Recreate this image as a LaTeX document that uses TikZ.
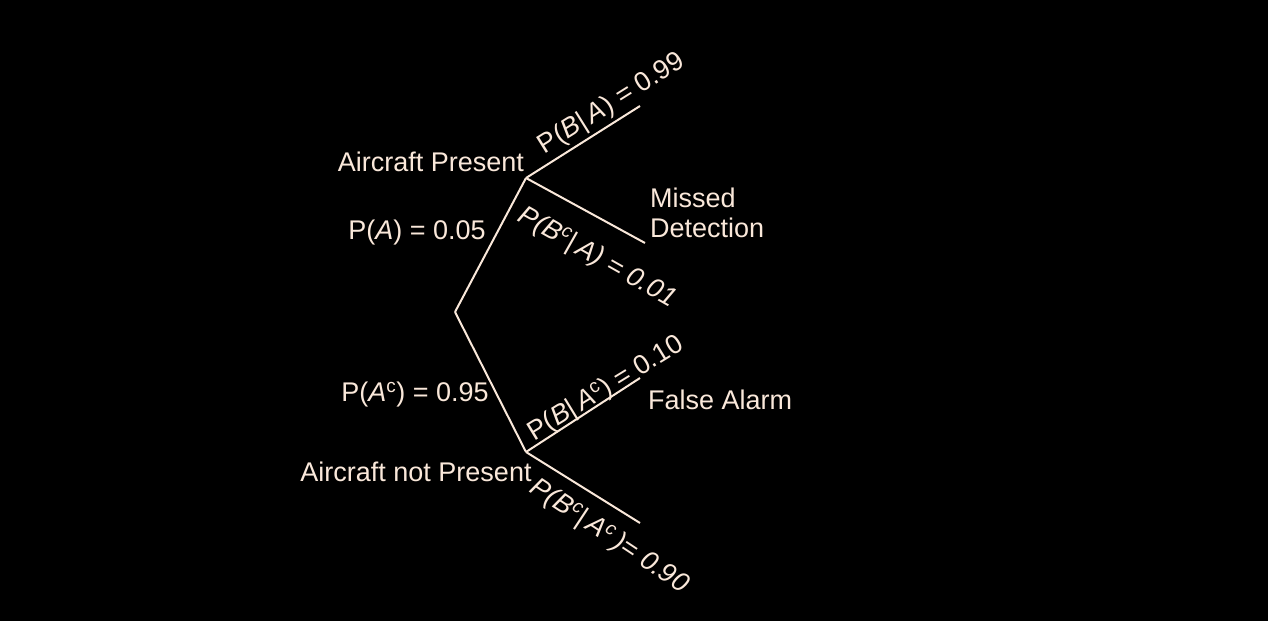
\documentclass[tikz,border=0pt]{standalone}
\usepackage{fontspec}
\setmainfont{Liberation Sans}
\definecolor{cream}{RGB}{250,232,218}
\begin{document}
\begin{tikzpicture}[x=1pt,y=-1pt,
  branch/.style={draw=cream,line width=2pt},
  lbl/.style={text=cream,inner sep=0pt,font=\fontsize{27}{30}\selectfont},
  pt/.style={inner sep=0pt,minimum size=0pt}]
\fill[black] (0,0) rectangle (1268,621);
\useasboundingbox (0,0) rectangle (1268,621);
\coordinate (root) at (455,312);
\coordinate (up) at (526,178);
\coordinate (dn) at (526,452);
\coordinate (uu) at (640,106);
\coordinate (ud) at (645,243);
\coordinate (du) at (640,378);
\coordinate (dd) at (640,523);
\draw[branch] (root) -- (up);
\draw[branch] (root) -- (dn);
\draw[branch] (up) -- (uu);
\draw[branch] (up) -- (ud);
\draw[branch] (dn) -- (du);
\draw[branch] (dn) -- (dd);
\node[lbl] (ap) at (431,162) {Aircraft Present};
\node[lbl] (anp) at (416,472) {Aircraft not Present};
\node[lbl] (pa) at (417,233) {P(\textit{A}) = 0.05};
\node[lbl] (pac) at (415,395) {P(\textit{A}\textsuperscript{c}) = 0.95};
\node[lbl,anchor=west,align=left] (md) at (650,213) {Missed\\Detection};
\node[lbl,anchor=west] (fa) at (648,400) {False Alarm};
\node[lbl,rotate=32] (l1) at (612,104) {P(\textit{B}|\,\textit{A}) = 0.99};
\node[lbl,rotate=-29.5] (l2) at (597,258) {\textit{P(B\textsuperscript{c}|\,A) = 0.01}};
\node[lbl,rotate=31.5] (l3) at (606,389) {P(\textit{B}|\,\textit{A}\textsuperscript{c}) = 0.10};
\node[lbl,rotate=-33.5] (l4) at (609,537) {\textit{P(B\textsuperscript{c}|\,A\textsuperscript{c}\,)= 0.90}};
\end{tikzpicture}
\end{document}
